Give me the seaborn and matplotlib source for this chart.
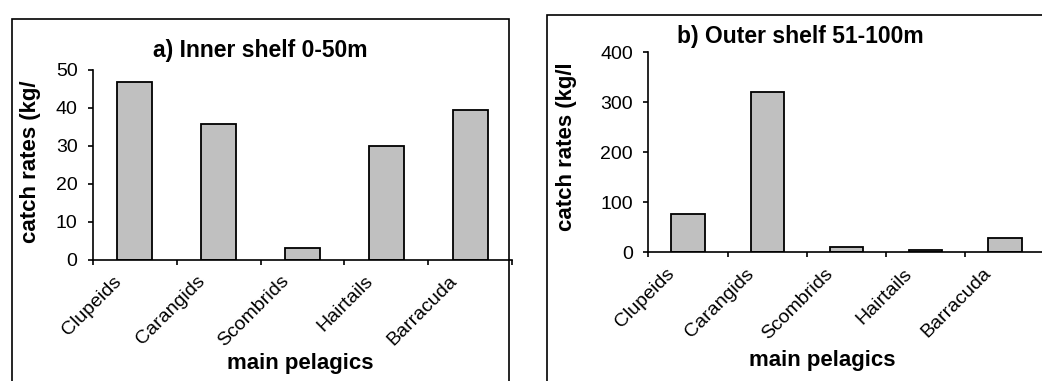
import matplotlib
matplotlib.use("Agg")
import matplotlib.pyplot as plt
import matplotlib.transforms as mtransforms
from matplotlib.patches import Rectangle
import seaborn as sns
import numpy as np

categories = ["Clupeids", "Carangids", "Scombrids", "Hairtails", "Barracuda"]
inner_values = [46.8, 35.7, 3.2, 30.0, 39.5]
outer_values = [76, 320, 11, 4, 28]
inner_yticks = [0, 10, 20, 30, 40, 50]
outer_yticks = [0, 100, 200, 300, 400]

sns.set_theme(style="white")
plt.rcParams["font.family"] = ["Liberation Sans", "DejaVu Sans"]

W, H = 1042, 381
fig = plt.figure(figsize=(W / 100, H / 100), dpi=100)

def px_axes(left, right, top, bottom):
    return fig.add_axes([left / W, (H - bottom) / H, (right - left) / W, (bottom - top) / H])

# panel frames
fig.add_artist(Rectangle((12 / W, -0.1), (509 - 12) / W, (H - 19) / H + 0.1,
                         transform=fig.transFigure, fill=False, edgecolor="black",
                         linewidth=1.2, clip_on=False))
fig.add_artist(Rectangle((546.7 / W, -0.1), 0.6, (H - 14.7) / H + 0.1,
                         transform=fig.transFigure, fill=False, edgecolor="black",
                         linewidth=1.2, clip_on=False))

ax_a = px_axes(93, 512, 70, 260)
ax_b = px_axes(648.3, 1044.5, 52.3, 252.3)

panels = [
    (ax_a, inner_values, inner_yticks, "a) Inner shelf 0-50m", "catch rates (kg/",
     (0.40, 1.07), (-0.125, 0.516), (0.494, -0.49)),
    (ax_b, outer_values, outer_yticks, "b) Outer shelf 51-100m", "catch rates (kg/l",
     (0.383, 1.047), (-0.18, 0.527), (0.438, -0.489)),
]

for ax, vals, yt, title, ylab, tpos, ylpos, xlpos in panels:
    sns.barplot(x=categories, y=vals, ax=ax, color="#C0C0C0", saturation=1,
                edgecolor="black", linewidth=1.3, width=0.42)
    ax.set_facecolor("none")
    ax.set_xlim(-0.5, len(categories) - 0.5)
    ax.set_ylim(yt[0], yt[-1])
    ax.set_yticks(yt)
    ax.set_yticklabels([str(v) for v in yt], fontsize=14, color="black")
    for s in ["top", "right"]:
        ax.spines[s].set_visible(False)
    for s in ["left", "bottom"]:
        ax.spines[s].set_color("black")
        ax.spines[s].set_linewidth(1.2)
    ax.tick_params(axis="y", which="major", direction="out", length=3.6, width=1.2,
                   color="black", pad=7.5, left=True)
    ax.set_xticks(np.arange(len(categories)))
    ax.set_xticklabels(categories, fontsize=14, color="black")
    ax.set_xticks(np.arange(len(categories) + 1) - 0.5, minor=True)
    ax.tick_params(axis="x", which="major", length=0, pad=13.5, bottom=True)
    ax.tick_params(axis="x", which="minor", direction="out", length=3.6, width=1.2,
                   color="black", bottom=True)
    offset = mtransforms.ScaledTranslation(-16 / 100, 0, fig.dpi_scale_trans)
    for lab in ax.get_xticklabels():
        lab.set_rotation(45)
        lab.set_ha("right")
        lab.set_va("center")
        lab.set_rotation_mode("anchor")
        lab.set_transform(lab.get_transform() + offset)
    ax.set_title(title, fontsize=16.5, fontweight="bold", x=tpos[0], y=tpos[1],
                 va="baseline", pad=0, color="black")
    ax.set_ylabel(ylab, fontsize=16, fontweight="bold", color="black")
    ax.yaxis.set_label_coords(*ylpos)
    ax.set_xlabel("main pelagics", fontsize=16, fontweight="bold", color="black")
    ax.xaxis.set_label_coords(*xlpos)
    ax.grid(False)

fig.savefig("out.png", dpi=100, facecolor="white")
